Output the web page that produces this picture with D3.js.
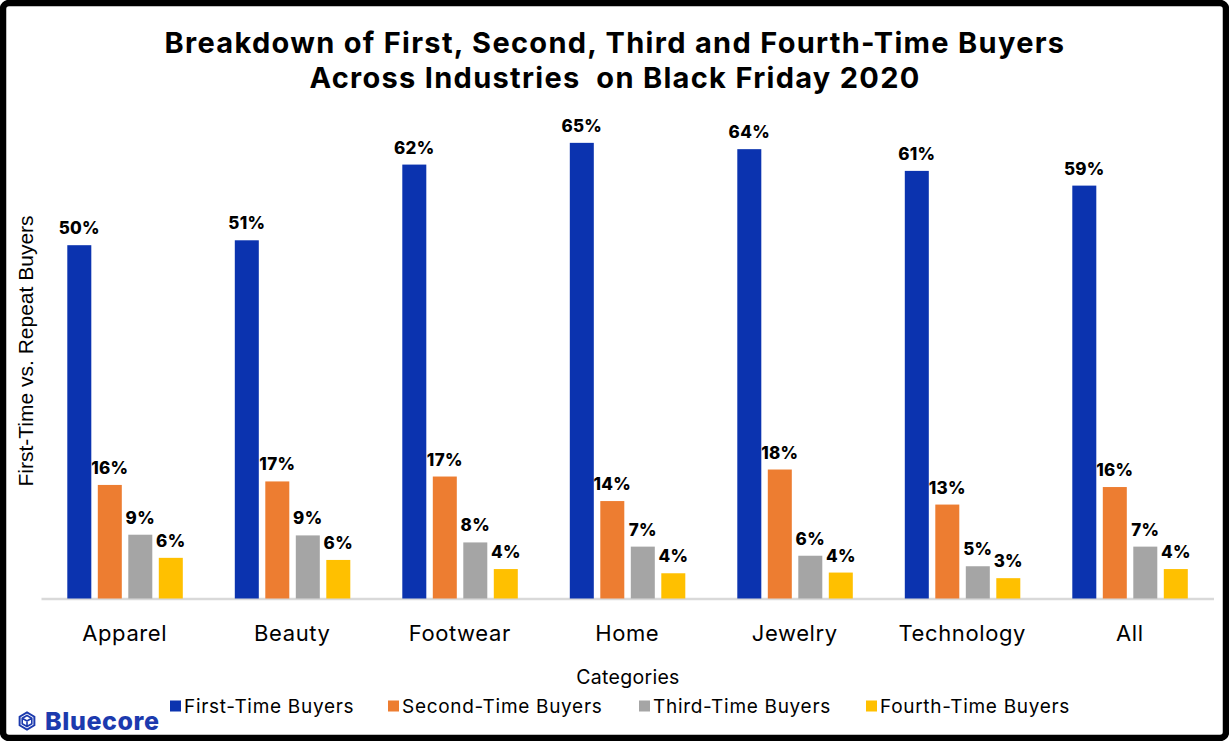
<!DOCTYPE html>
<html><head><meta charset="utf-8">
<script src="https://cdn.jsdelivr.net/npm/d3@7"></script>
<style>
html,body{margin:0;padding:0;background:#fff;}
svg{display:block;}
</style></head>
<body>
<svg id="chart" width="1229" height="741"></svg>
<script>
const categories = ["Apparel","Beauty","Footwear","Home","Jewelry","Technology","All"];
const seriesNames = ["First-Time Buyers","Second-Time Buyers","Third-Time Buyers","Fourth-Time Buyers"];
const firstTime  = [50.4, 51.1, 61.9, 65.0, 64.1, 61.0, 58.9];
const secondTime = [16.2, 16.7, 17.4, 13.9, 18.4, 13.4, 15.9];
const thirdTime  = [9.1, 9.0, 8.0, 7.4, 6.1, 4.6, 7.4];
const fourthTime = [5.8, 5.5, 4.2, 3.6, 3.7, 2.9, 4.2];
const labelsFirst  = ["50%","51%","62%","65%","64%","61%","59%"];
const labelsSecond = ["16%","17%","17%","14%","18%","13%","16%"];
const labelsThird  = ["9%","9%","8%","7%","6%","5%","7%"];
const labelsFourth = ["6%","6%","4%","4%","4%","3%","4%"];
const colors = ["#0B33AF","#ED7D31","#A5A5A5","#FFC000"];

const seriesValues = [firstTime, secondTime, thirdTime, fourthTime];
const seriesLabels = [labelsFirst, labelsSecond, labelsThird, labelsFourth];

const svg = d3.select("#chart");
const W = 1229, H = 741;
const FONT = "Inter, 'Noto Sans', sans-serif";

// frame
svg.append("rect").attr("x",3).attr("y",3).attr("width",W-6).attr("height",H-6)
  .attr("rx",6).attr("fill","#fff").attr("stroke","#000").attr("stroke-width",6.5);

// title
const title = svg.append("text").attr("text-anchor","middle")
  .attr("font-family",FONT).attr("font-weight",700)
  .attr("font-size",29).attr("letter-spacing",1.3).attr("fill","#000");
title.append("tspan").attr("x",615).attr("y",53).text("Breakdown of First, Second, Third and Fourth-Time Buyers");
title.append("tspan").attr("x",615).attr("y",88).attr("xml:space","preserve").text("Across Industries\u2002on Black Friday 2020");

const baseY = 598.5;
const x0 = d3.scaleBand().domain(categories).range([41, 1213.5]).paddingInner(0).paddingOuter(0);
const x1 = d3.scaleBand().domain(seriesNames).range([26.3, 141.8]).paddingInner(0.213).paddingOuter(0);
const y = d3.scaleLinear().domain([0, 70]).range([baseY, baseY - 70*7.01]);

// axis
const xAxis = d3.axisBottom(x0).tickSize(0).tickPadding(0);
const gx = svg.append("g").attr("transform",`translate(0,${baseY})`).call(xAxis);
gx.select(".domain").attr("stroke","#D9D9D9").attr("stroke-width",2.5);
gx.selectAll(".tick text").attr("dy",null).attr("y",42)
  .attr("font-family",FONT).attr("font-size",22).attr("letter-spacing",0.6).attr("fill","#000");

// bars
const groups = svg.append("g");
seriesNames.forEach((s, si) => {
  const g = groups.append("g");
  g.selectAll("rect").data(categories).join("rect")
    .attr("x", (c) => x0(c) + x1(s))
    .attr("width", x1.bandwidth())
    .attr("y", (c, i) => y(seriesValues[si][i]))
    .attr("height", (c, i) => baseY - y(seriesValues[si][i]))
    .attr("fill", colors[si]);
  g.selectAll("text").data(categories).join("text")
    .attr("x", (c) => x0(c) + x1(s) + x1.bandwidth()/2)
    .attr("y", (c, i) => y(seriesValues[si][i]) - 11)
    .attr("text-anchor","middle")
    .attr("font-family",FONT).attr("font-weight",800)
    .attr("font-size",17).attr("letter-spacing",0.3).attr("fill","#000")
    .text((c, i) => seriesLabels[si][i]);
});

// axis titles
svg.append("text").attr("x",628).attr("y",684).attr("text-anchor","middle")
  .attr("font-family",FONT).attr("font-size",19.5).attr("letter-spacing",0.3).attr("fill","#000")
  .text("Categories");
svg.append("text").attr("transform","translate(33,351) rotate(-90)").attr("text-anchor","middle")
  .attr("font-family","'Liberation Sans', Arial, sans-serif").attr("font-size",21).attr("fill","#000")
  .text("First-Time vs. Repeat Buyers");

// legend
const legendX = [170, 388, 639, 866];
const lg = svg.append("g");
seriesNames.forEach((s, si) => {
  lg.append("rect").attr("x", legendX[si]).attr("y", 700.5).attr("width", 11).attr("height", 11).attr("fill", colors[si]);
  lg.append("text").attr("x", legendX[si] + 14).attr("y", 713)
    .attr("font-family",FONT).attr("font-size",19).attr("letter-spacing",0.7).attr("fill","#000").text(s);
});

// Bluecore logo
const logo = svg.append("g").attr("transform","translate(27,721)").attr("fill","none").attr("stroke","#1C3AAE").attr("stroke-width",2);
const hex = d3.range(6).map(k => { const a = Math.PI/6 + k*Math.PI/3; return [8.5*Math.cos(a), 8.5*Math.sin(a)]; });
logo.append("path").attr("d", "M" + hex.map(p=>p.join(",")).join("L") + "Z");
logo.append("path").attr("d","M0,-5.5 L4.8,-2.7 L4.8,2.8 L0,5.5 L-4.8,2.8 L-4.8,-2.7 Z M-4.8,-2.7 L0,0 L4.8,-2.7 M0,0 L0,5.5").attr("stroke-width",1.6);
svg.append("text").attr("x",45).attr("y",730)
  .attr("font-family",FONT).attr("font-weight",800).attr("font-size",25).attr("letter-spacing",0.6).attr("fill","#1C3AAE")
  .text("Bluecore");
</script>
</body></html>
